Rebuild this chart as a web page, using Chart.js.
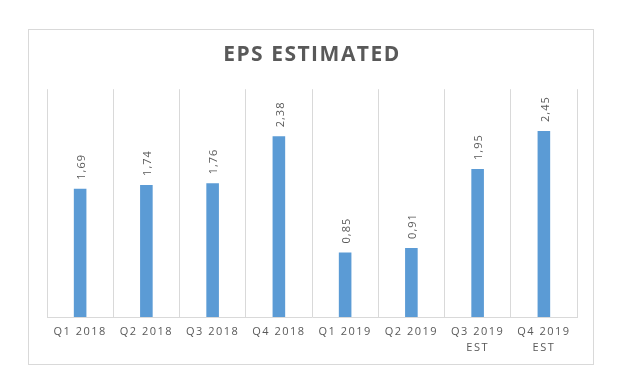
<!DOCTYPE html>
<html>
<head>
<meta charset="utf-8">
<script src="https://cdn.jsdelivr.net/npm/chart.js@4/dist/chart.umd.min.js"></script>
<style>
  html, body { margin: 0; padding: 0; background: #ffffff; }
  #wrap { position: relative; width: 620px; height: 382px; }
  #box { position: absolute; left: 28px; top: 29px; width: 564px; height: 334px; border: 1px solid #d9d9d9; box-sizing: content-box; }
  canvas { position: absolute; left: 0; top: 0; }
</style>
</head>
<body>
<div id="wrap">
  <div id="box"></div>
  <canvas id="c" width="620" height="382"></canvas>
</div>
<script>
const categories = [
  ["Q1 2018"], ["Q2 2018"], ["Q3 2018"], ["Q4 2018"],
  ["Q1 2019"], ["Q2 2019"], ["Q3 2019", "EST"], ["Q4 2019", "EST"]
];
const epsValues = [1.69, 1.74, 1.76, 2.38, 0.85, 0.91, 1.95, 2.45];
const titleText = "EPS ESTIMATED";

const spacingPlugin = {
  id: 'spacing',
  beforeDraw(chart) { chart.ctx.letterSpacing = '1.5px'; },
  afterDraw(chart) { chart.ctx.letterSpacing = '0px'; }
};

const valueLabels = {
  id: 'valueLabels',
  afterDatasetsDraw(chart) {
    const ctx = chart.ctx;
    const meta = chart.getDatasetMeta(0);
    ctx.save();
    ctx.letterSpacing = '1px';
    ctx.fillStyle = '#595959';
    ctx.font = '11px "Open Sans", sans-serif';
    ctx.textAlign = 'left';
    ctx.textBaseline = 'middle';
    meta.data.forEach((bar, i) => {
      const txt = epsValues[i].toFixed(2).replace('.', ',');
      ctx.save();
      ctx.translate(bar.x + 1.5, bar.y - 9);
      ctx.rotate(-Math.PI / 2);
      ctx.fillText(txt, 0, 0);
      ctx.restore();
    });
    ctx.restore();
  }
};

new Chart(document.getElementById('c'), {
  type: 'bar',
  data: {
    labels: categories,
    datasets: [{
      data: epsValues,
      backgroundColor: '#5b9bd5',
      borderWidth: 0,
      barPercentage: 0.19,
      categoryPercentage: 1.0
    }]
  },
  options: {
    responsive: false,
    animation: false,
    devicePixelRatio: 1,
    layout: { padding: { left: 47, right: 43, top: 0, bottom: 0 } },
    plugins: {
      legend: { display: false },
      tooltip: { enabled: false },
      title: {
        display: true,
        text: titleText,
        color: '#595959',
        font: { family: '"Open Sans", sans-serif', size: 21, weight: 'bold', lineHeight: 1.2 },
        padding: { top: 42, bottom: 22 }
      }
    },
    scales: {
      x: {
        grid: { display: true, offset: true, color: '#d9d9d9', drawTicks: false, lineWidth: 1 },
        border: { display: true, color: '#d9d9d9' },
        ticks: {
          color: '#595959',
          font: { family: '"Open Sans", sans-serif', size: 11, lineHeight: 1.45 },
          padding: 7,
          maxRotation: 0,
          minRotation: 0,
          autoSkip: false
        },
        afterFit(scale) { scale.height = 65; }
      },
      y: {
        display: false,
        min: 0,
        max: 3
      }
    }
  },
  plugins: [spacingPlugin, valueLabels]
});
</script>
</body>
</html>
